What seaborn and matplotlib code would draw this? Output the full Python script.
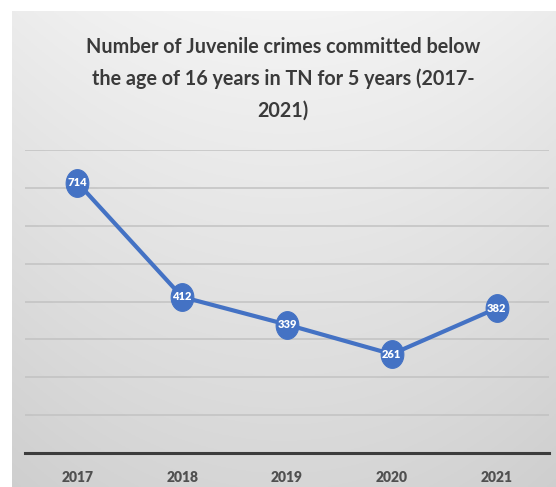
import numpy as np
import pandas as pd
import matplotlib
matplotlib.use("Agg")
import matplotlib.pyplot as plt
from matplotlib.path import Path
import seaborn as sns

# Juvenile crimes by year
years = ["2017", "2018", "2019", "2020", "2021"]
crimes = [714, 412, 339, 261, 382]
y_ticks = [0, 100, 200, 300, 400, 500, 600, 700, 800]

title = ("Number of Juvenile crimes committed below\n"
         "the age of 16 years in TN for 5 years (2017-\n"
         "2021)")

sns.set_theme(style="white")
plt.rcParams["font.family"] = ["Lato", "DejaVu Sans"]

W, H = 556, 487
fig = plt.figure(figsize=(W / 100, H / 100), dpi=100)
fig.patch.set_facecolor("white")

# soft grey gradient panel behind the chart
bg = fig.add_axes([12 / W, 0, 1 - 12 / W, 1 - 11 / H])
rows = np.linspace(0, 1, 256)[:, None]
cols = np.linspace(-1, 1, 256)[None, :]
shade = 0.955 - 0.115 * rows - 0.03 * cols ** 2
bg.imshow(np.dstack([shade] * 3), aspect="auto", extent=[0, 1, 1, 0])
bg.set_axis_off()

ax = fig.add_axes([25 / W, (H - 453) / H, (549 - 25) / W, (453 - 150) / H])
ax.patch.set_alpha(0)

df = pd.DataFrame({"year": years, "crimes": crimes})

# slightly tall elliptical marker
t = np.linspace(0, 2 * np.pi, 60)
ellipse = Path(np.column_stack([0.82 * np.cos(t), np.sin(t)]), closed=True)

sns.lineplot(data=df, x="year", y="crimes", ax=ax, color="#4472C4",
             linewidth=3.0, marker=ellipse, markersize=20,
             markeredgecolor="#4472C4", markerfacecolor="#4472C4", zorder=3)

for i, v in enumerate(crimes):
    ax.text(i, v, str(v), ha="center", va="center", color="white",
            fontsize=8, fontweight="heavy", zorder=4)

ax.set_xlim(-0.5, len(years) - 0.5)
ax.set_ylim(y_ticks[0], y_ticks[-1])
ax.set_yticks(y_ticks)
ax.yaxis.grid(True, color="#c2c2c2", linewidth=1.1)
ax.xaxis.grid(False)
ax.tick_params(axis="y", left=False, labelleft=False)
ax.tick_params(axis="x", bottom=False, pad=7, labelsize=10, labelcolor="#505050")
for lab in ax.get_xticklabels():
    lab.set_fontweight("heavy")
ax.set_xlabel("")
ax.set_ylabel("")
for side in ("top", "right", "left"):
    ax.spines[side].set_visible(False)
ax.spines["bottom"].set_color("#3c3c3c")
ax.spines["bottom"].set_linewidth(2.2)
ax.spines["bottom"].set_zorder(5)

fig.text(283 / W, 1 - 79 / H, title, ha="center", va="center",
         fontsize=14.2, fontweight="bold", color="#3a3a3a", linespacing=1.72)

fig.savefig("out.png", dpi=100)
